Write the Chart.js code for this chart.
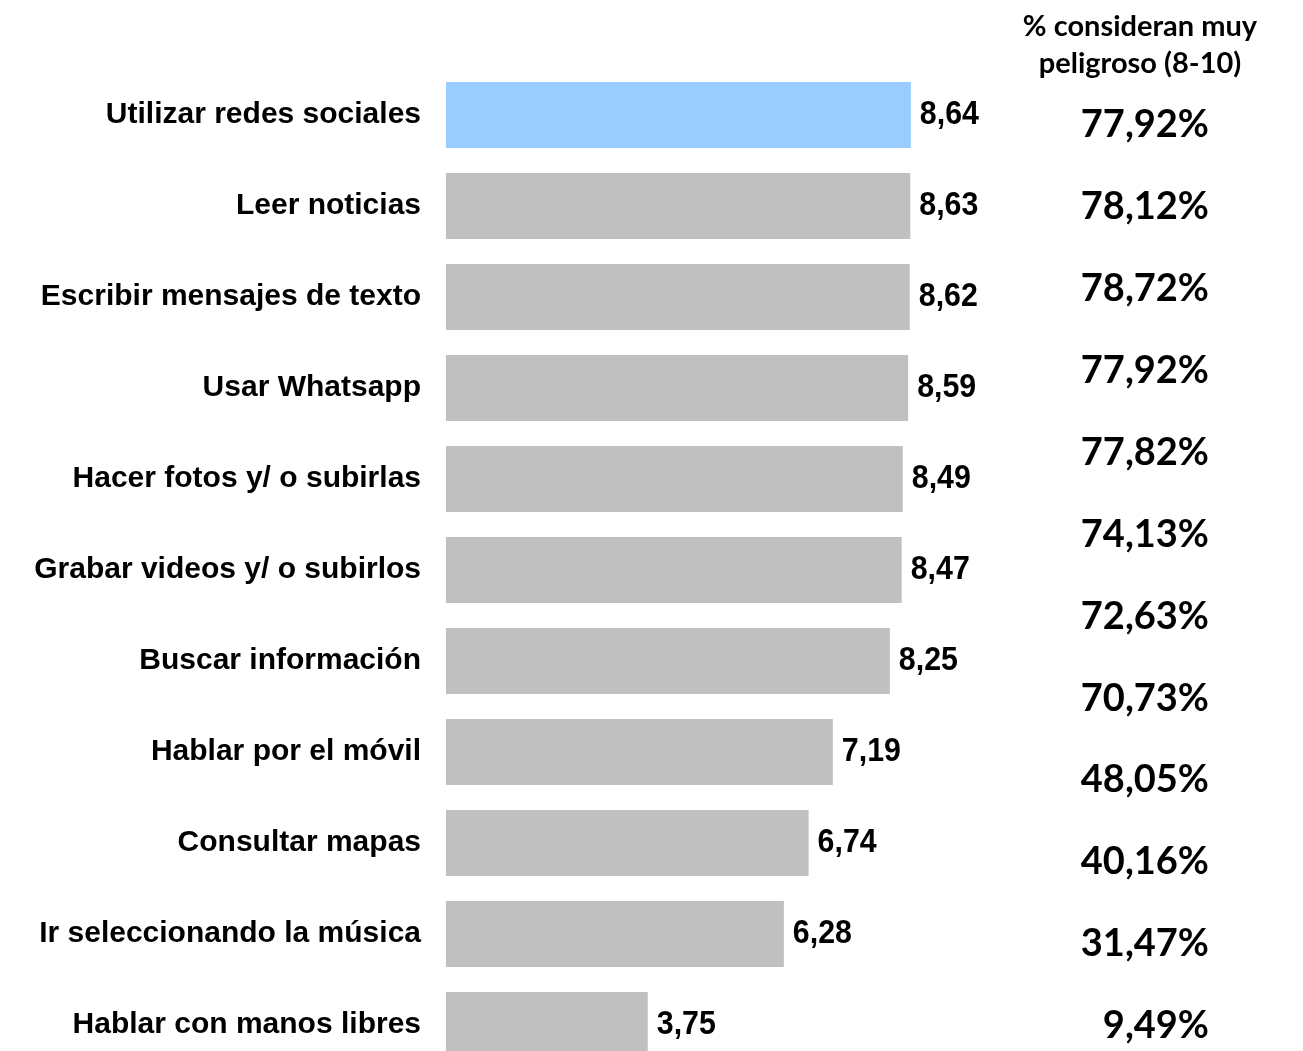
<!DOCTYPE html>
<html>
<head>
<meta charset="utf-8">
<script src="https://cdn.jsdelivr.net/npm/chart.js@4.4.1/dist/chart.umd.min.js"></script>
<style>
  html, body { margin: 0; padding: 0; background: #fff; overflow: hidden; height: 1051px; }
  #chart { display: block; width: 1303px; height: 1106px; }
</style>
</head>
<body>
<canvas id="chart" width="1303" height="1106"></canvas>
<script>
// Activities and mean danger score (0-10)
const categories = [
    'Utilizar redes sociales',
    'Leer noticias',
    'Escribir mensajes de texto',
    'Usar Whatsapp',
    'Hacer fotos y/ o subirlas',
    'Grabar videos y/ o subirlos',
    'Buscar información',
    'Hablar por el móvil',
    'Consultar mapas',
    'Ir seleccionando la música',
    'Hablar con manos libres'
];
const scores = [8.64, 8.63, 8.62, 8.59, 8.49, 8.47, 8.25, 7.19, 6.74, 6.28, 3.75];
const barColors = ['#99CCFF', '#C0C0C0', '#C0C0C0', '#C0C0C0', '#C0C0C0', '#C0C0C0',
                   '#C0C0C0', '#C0C0C0', '#C0C0C0', '#C0C0C0', '#C0C0C0'];

// Right-hand column (as in the source, 12 entries)
const pctHeader = ['% consideran muy', 'peligroso (8-10)'];
const pctValues = ['77,92%', '78,12%', '78,72%', '77,92%', '77,82%', '74,13%',
                   '72,63%', '70,73%', '48,05%', '40,16%', '31,47%', '9,49%'];

const fmt = v => v.toFixed(2).replace('.', ',');

// value labels at bar ends + percentage column
const extras = {
    id: 'extras',
    afterDatasetsDraw(chart) {
        const { ctx, scales: { y } } = chart;
        const meta = chart.getDatasetMeta(0);
        ctx.save();
        ctx.fillStyle = '#000';
        ctx.textBaseline = 'middle';
        ctx.textAlign = 'left';
        ctx.font = 'bold 33px "Liberation Sans", Arial, sans-serif';
        meta.data.forEach((bar, i) => {
            ctx.save();
            ctx.translate(bar.x + 9, bar.y);
            ctx.scale(0.92, 1);
            ctx.fillText(fmt(scores[i]), 0, 0);
            ctx.restore();
        });

        const band = y.getPixelForValue(1) - y.getPixelForValue(0);
        ctx.textAlign = 'center';
        ctx.font = 'bold 29px Lato, "Open Sans", sans-serif';
        ctx.fillText(pctHeader[0], 1140, 27);
        ctx.fillText(pctHeader[1], 1140, 64);

        ctx.textAlign = 'right';
        ctx.font = 'bold 38px Lato, "Open Sans", sans-serif';
        const y0 = y.getPixelForValue(0) + band * 0.11;
        pctValues.forEach((t, i) => {
            ctx.fillText(t, 1209, y0 + i * band * 0.9);
        });
        ctx.restore();
    }
};

// canvas is taller than the page: the last row is cut by the bottom edge, as in the source
new Chart(document.getElementById('chart'), {
    type: 'bar',
    data: {
        labels: categories,
        datasets: [{
            data: scores,
            backgroundColor: barColors,
            borderWidth: 0,
            barPercentage: 0.725,
            categoryPercentage: 1
        }]
    },
    options: {
        indexAxis: 'y',
        responsive: false,
        animation: false,
        layout: { padding: { top: 69.5, right: 319, bottom: 35.5, left: 0 } },
        plugins: {
            legend: { display: false },
            tooltip: { enabled: false }
        },
        scales: {
            x: {
                min: 0,
                max: 10,
                display: false
            },
            y: {
                grid: { display: false },
                border: { display: false },
                ticks: {
                    color: '#000',
                    padding: 17,
                    font: { family: '"Liberation Sans", Arial, sans-serif', size: 30, weight: 'bold' }
                },
                afterFit(scale) { scale.width = 446; }
            }
        }
    },
    plugins: [extras]
});
</script>
</body>
</html>
